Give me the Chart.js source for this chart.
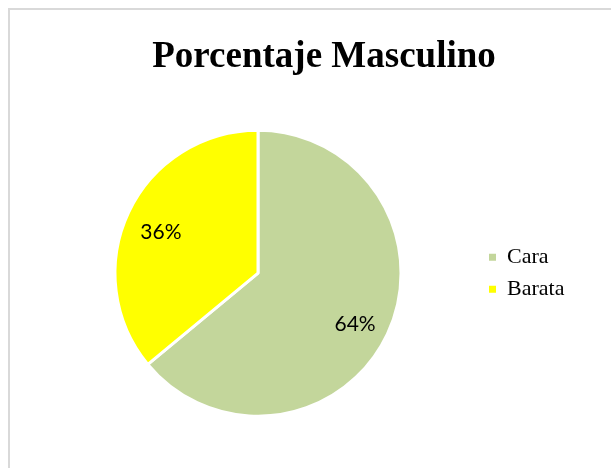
<!DOCTYPE html>
<html>
<head>
<meta charset="utf-8">
<script src="https://cdn.jsdelivr.net/npm/chart.js@4"></script>
<style>
  html, body { margin: 0; padding: 0; background: #fff; overflow: hidden; }
  #frame { position: absolute; left: 8px; top: 8px; width: 700px; height: 600px; border: 2px solid #d9d9d9; }
  #wrap { position: absolute; left: 0; top: 0; width: 611px; height: 468px; }
</style>
</head>
<body>
<div id="frame"></div>
<div id="wrap"><canvas id="pieChart" width="611" height="468"></canvas></div>
<script>
// datos del grafico
const labels = ['Cara', 'Barata'];
const values = [64, 36];
const colors = ['#C3D69B', '#FFFF00'];
const titleText = 'Porcentaje Masculino';

// etiquetas de porcentaje dentro de cada sector
const pctLabels = {
  id: 'pctLabels',
  afterDatasetsDraw(chart) {
    const ctx = chart.ctx;
    const meta = chart.getDatasetMeta(0);
    const total = values.reduce((a, b) => a + b, 0);
    ctx.save();
    ctx.font = '21px Lato';
    ctx.fillStyle = '#000';
    ctx.textAlign = 'center';
    ctx.textBaseline = 'middle';
    meta.data.forEach((arc, i) => {
      const p = arc.getProps(['x', 'y', 'startAngle', 'endAngle', 'outerRadius']);
      const mid = (p.startAngle + p.endAngle) / 2;
      const r = p.outerRadius * 0.75;
      const pct = Math.round(values[i] / total * 100) + '%';
      ctx.fillText(pct, p.x + Math.cos(mid) * r, p.y + Math.sin(mid) * r + 5);
    });
    ctx.restore();
  }
};

// ancho fijo para la leyenda
const legendWidth = {
  id: 'legendWidth',
  beforeInit(chart) {
    const fit = chart.legend.fit;
    chart.legend.fit = function () {
      fit.bind(chart.legend)();
      this.width = 132;
    };
  }
};

const ctx = document.getElementById('pieChart');
const pie = new Chart(ctx, {
  type: 'pie',
  data: {
    labels: labels,
    datasets: [{
      data: values,
      backgroundColor: colors,
      borderColor: '#fff',
      borderWidth: 3,
      radius: 143
    }]
  },
  options: {
    responsive: false,
    animation: false,
    layout: {
      padding: { left: 37, right: 0, top: 0, bottom: 11 }
    },
    plugins: {
      title: {
        display: true,
        text: titleText,
        color: '#000',
        font: { family: 'Liberation Serif', size: 37, weight: 'bold' },
        padding: { top: 35, bottom: 10 }
      },
      legend: {
        position: 'right',
        fullSize: false,
        labels: {
          boxWidth: 7,
          boxHeight: 7,
          padding: 10,
          color: '#000',
          font: { family: 'Liberation Serif', size: 22 },
          generateLabels(chart) {
            const items = Chart.overrides.pie.plugins.legend.labels.generateLabels(chart);
            items.forEach(it => { it.lineWidth = 0; });
            return items;
          }
        }
      },
      tooltip: { enabled: false }
    }
  },
  plugins: [pctLabels, legendWidth]
});
</script>
</body>
</html>
